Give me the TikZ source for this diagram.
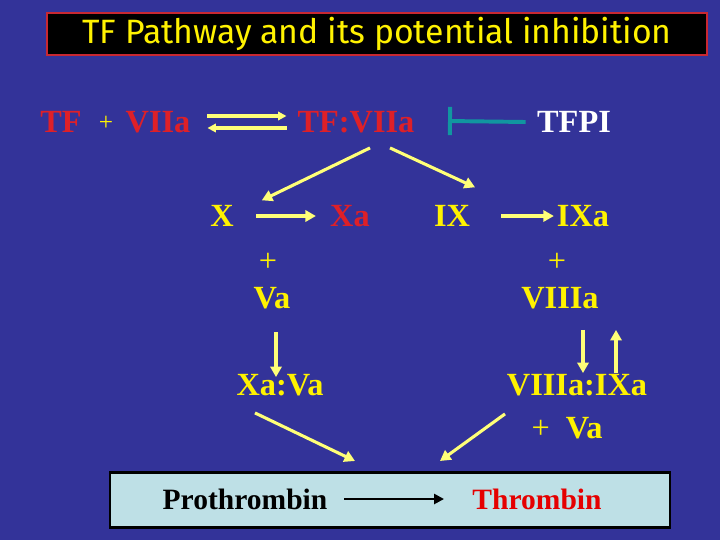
\documentclass[tikz,border=0pt]{standalone}
\usepackage{fontspec}
\setmainfont{Liberation Serif}
\newfontfamily\titlefont{Fira Sans}
\usetikzlibrary{arrows.meta}
\definecolor{slideblue}{RGB}{51,51,153}
\definecolor{factorred}{RGB}{222,32,40}
\definecolor{paleyellow}{RGB}{255,255,120}
\definecolor{tealbar}{RGB}{17,150,160}
\definecolor{boxblue}{RGB}{190,224,230}
\definecolor{titlered}{RGB}{200,40,50}
\begin{document}
\begin{tikzpicture}[x=0.025cm,y=-0.025cm,
  lab/.style={inner sep=2pt,font=\fontsize{23}{26}\selectfont\bfseries},
  redlab/.style={lab,text=factorred},
  yellab/.style={lab,text=yellow},
  plus/.style={inner sep=1pt,text=yellow,font=\fontsize{23}{26}\selectfont},
  arr/.style={draw=paleyellow,line width=2.2pt,
              -{Triangle[length=7.5pt,width=8pt]}},
  inhib/.style={draw=tealbar,line width=2.8pt,-{Bar[width=20pt]}}]
\fill[slideblue] (0,0) rectangle (720,540);
\path[use as bounding box] (0,0) rectangle (720,540);
% title
\node[draw=titlered,line width=1.4pt,fill=black,minimum width=16.5cm,
      minimum height=1.05cm,inner sep=1pt,text=yellow,
      font=\titlefont\fontsize{24}{26}\selectfont]
  (title) at (377,34) {TF Pathway and its potential inhibition};
% initiation
\node[redlab] (tf) at (61,122) {TF};
\node[plus,font=\fontsize{18}{20}\selectfont] (p0) at (106,123) {+};
\node[redlab] (viia) at (158,122) {VIIa};
\node[redlab] (tfviia) at (356,122) {TF:VIIa};
\node[lab,text=white] (tfpi) at (574,122) {TFPI};
\draw[arr,-{Triangle[length=6pt,width=6pt]}]
  ([shift={(14,-6)}]viia.east) -- ([shift={(-8,-6)}]tfviia.west);
\draw[arr,-{Triangle[length=6pt,width=6pt]}]
  ([shift={(-8,6)}]tfviia.west) -- ([shift={(14,6)}]viia.east);
\coordinate (bar) at (448,121);
\draw[inhib] ([xshift=-6pt]tfpi.west) -- (bar);
% X and IX activation
\node[yellab] (x) at (222,216) {X};
\node[redlab] (xa) at (350,216) {Xa};
\node[yellab] (ix) at (452,216) {IX};
\node[yellab] (ixa) at (583,216) {IXa};
\draw[arr] ([shift={(14,12)}]tfviia.south) -- ([shift={(25,-2)}]x.north east);
\draw[arr] ([shift={(34,12)}]tfviia.south) -- ([shift={(2,-15)}]ix.north east);
\draw[arr] ([xshift=14pt]x.east) -- ([xshift=-8pt]xa.west);
\draw[arr] ([xshift=20pt]ix.east) -- (ixa.west);
% cofactors
\node[plus] (p1) at (268,262) {+};
\node[yellab] (va) at (272,298) {Va};
\node[plus] (p2) at (557,262) {+};
\node[yellab] (viiia) at (560,298) {VIIIa};
\node[yellab] (xava) at (280,385) {Xa:Va};
\node[yellab] (viiiaixa) at (577,385) {VIIIa:IXa};
\node[yellab] (vb) at (567,428) {{\mdseries+}\ \ Va};
\draw[arr] ([shift={(4,20)}]va.south) -- ([shift={(4,6)}]va.south |- xava.north);
\draw[arr] ([shift={(23,18)}]viiia.south) -- ([shift={(23,2)}]viiia.south |- viiiaixa.north);
\draw[arr] ([shift={(56,2)}]viiia.south |- viiiaixa.north) -- ([shift={(56,18)}]viiia.south);
% conversion
\node[draw=black,line width=2pt,fill=boxblue,minimum width=14cm,
      minimum height=1.38cm] (conv) at (390,500) {};
\node[lab,text=black,font=\fontsize{21}{24}\selectfont\bfseries] (proth) at (245,499) {Prothrombin};
\node[lab,text=red!90!black,font=\fontsize{21}{24}\selectfont\bfseries] (thromb) at (537,499) {Thrombin};
\draw[line width=1.8pt,-{Triangle[length=7pt,width=7pt]}]
  ([xshift=10pt]proth.east) -- ([xshift=-18pt]thromb.west);
\draw[arr] ([shift={(-25,14)}]xava.south) -- ([shift={(-35,-10)}]conv.north);
\draw[arr] ([shift={(-72,15)}]viiiaixa.south) -- ([shift={(50,-10)}]conv.north);
\end{tikzpicture}
\end{document}
